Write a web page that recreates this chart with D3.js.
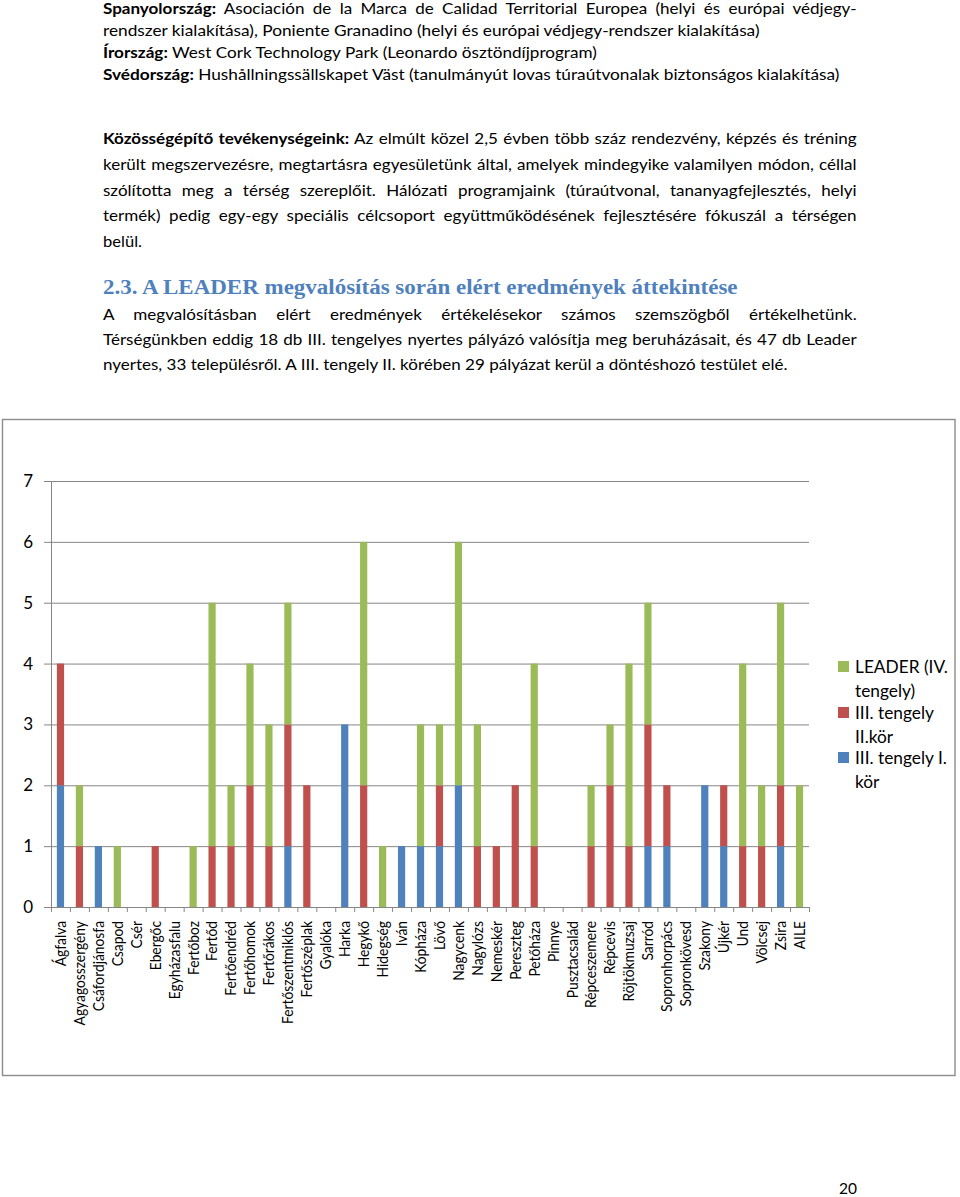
<!DOCTYPE html>
<html>
<head>
<meta charset="utf-8">
<script src="https://cdn.jsdelivr.net/npm/d3@7"></script>
<style>
  body { margin: 0; background: #fff; }
  svg { display: block; }
</style>
</head>
<body>
<div id="page"></div>
<script>
/* Page 20 — LEADER results: stacked bar chart of winning applications per settlement */

// ---- chart data ----
const categories = [
  'Ágfalva', 'Agyagosszergény', 'Csáfordjánosfa', 'Csapod', 'Csér', 'Ebergőc',
  'Egyházasfalu', 'Fertőboz', 'Fertőd', 'Fertőendréd', 'Fertőhomok', 'Fertőrákos',
  'Fertőszentmiklós', 'Fertőszéplak', 'Gyalóka', 'Harka', 'Hegykő', 'Hidegség',
  'Iván', 'Kópháza', 'Lövő', 'Nagycenk', 'Nagylózs', 'Nemeskér', 'Pereszteg',
  'Petőháza', 'Pinnye', 'Pusztacsalád', 'Répceszemere', 'Répcevis', 'Röjtökmuzsaj',
  'Sarród', 'Sopronhorpács', 'Sopronkövesd', 'Szakony', 'Újkér', 'Und', 'Völcsej',
  'Zsira', 'AILE'
];
// III. tengely I. kör (blue)
const korI = [2, 0, 1, 0, 0, 0, 0, 0, 0, 0, 0, 0, 1, 0, 0, 3, 0, 0, 1, 1, 1, 2, 0, 0, 0,
              0, 0, 0, 0, 0, 0, 1, 1, 0, 2, 1, 0, 0, 1, 0];
// III. tengely II. kör (red)
const korII = [2, 1, 0, 0, 0, 1, 0, 0, 1, 1, 2, 1, 2, 2, 0, 0, 2, 0, 0, 0, 1, 0, 1, 1, 2,
               1, 0, 0, 1, 2, 1, 2, 1, 0, 0, 1, 1, 1, 1, 0];
// LEADER (IV. tengely) (green)
const leader = [0, 1, 0, 1, 0, 0, 0, 1, 4, 1, 2, 2, 2, 0, 0, 0, 4, 1, 0, 2, 1, 4, 2, 0, 0,
                3, 0, 0, 1, 1, 3, 2, 0, 0, 0, 0, 3, 1, 3, 2];
const yTicks = [0, 1, 2, 3, 4, 5, 6, 7];
const legendLines = {
  leader: ['LEADER (IV.', 'tengely)'],
  korII: ['III. tengely', 'II.kör'],
  korI: ['III. tengely I.', 'kör'],
};
const legendOrder = ['leader', 'korII', 'korI'];

// ---- page text ----
const para1 = [
  [['Spanyolország:', true], [' Asociación de la Marca de Calidad Territorial Europea (helyi és európai védjegy-', false]],
  [['rendszer kialakítása), Poniente Granadino (helyi és európai védjegy-rendszer kialakítása)', false]],
  [['Írország:', true], [' West Cork Technology Park (Leonardo ösztöndíjprogram)', false]],
  [['Svédország:', true], [' Hushållningssällskapet Väst (tanulmányút lovas túraútvonalak biztonságos kialakítása)', false]],
];
const para2 = [
  [['Közösségépítő tevékenységeink:', true], [' Az elmúlt közel 2,5 évben több száz rendezvény, képzés és tréning', false]],
  [['került megszervezésre, megtartásra egyesületünk által, amelyek mindegyike valamilyen módon, céllal', false]],
  [['szólította meg a térség szereplőit. Hálózati programjaink (túraútvonal, tananyagfejlesztés, helyi', false]],
  [['termék) pedig egy-egy speciális célcsoport együttműködésének fejlesztésére fókuszál a térségen', false]],
  [['belül.', false]],
];
const heading = '2.3. A LEADER megvalósítás során elért eredmények áttekintése';
const para3 = [
  [['A megvalósításban elért eredmények értékelésekor számos szemszögből értékelhetünk.', false]],
  [['Térségünkben eddig 18 db III. tengelyes nyertes pályázó valósítja meg beruházásait, és 47 db Leader', false]],
  [['nyertes, 33 településről. A III. tengely II. körében 29 pályázat kerül a döntéshozó testület elé.', false]],
];
const pageNumber = '20';

const COLORS = { korI: '#4F81BD', korII: '#C0504D', leader: '#9BBB59' };
const FONT = "Lato, 'Noto Sans', sans-serif";
const GRID = '#868686';

const W = 960, H = 1197;
const svg = d3.select('#page').append('svg').attr('width', W).attr('height', H);
svg.append('rect').attr('width', W).attr('height', H).attr('fill', '#fff');

// ---- text block: each line squeezed to the width it has in the scan ----
const LEFT = 103, RIGHT = 857;

function makeLine(parent, parts, size, family, color) {
  const t = parent.append('text')
    .attr('x', 0).attr('y', 0)
    .style('font-family', family)
    .style('font-size', size + 'px')
    .attr('fill', color);
  parts.forEach(([txt, bold]) => {
    t.append('tspan').style('font-weight', bold ? 700 : 400).text(txt);
  });
  return t;
}

// lines: [parts, baseline, rightEdge, justified]
const textLayout = [
  [para1[0], 14, RIGHT, true],
  [para1[1], 36, 760, false],
  [para1[2], 58, 597, false],
  [para1[3], 80, 840, false],
  [para2[0], 144, RIGHT, true],
  [para2[1], 170, RIGHT, true],
  [para2[2], 195.5, RIGHT, true],
  [para2[3], 221, RIGHT, true],
  [para2[4], 246.5, 142, false],
  [para3[0], 320, RIGHT, true],
  [para3[1], 345, RIGHT, true],
  [para3[2], 370, 788, false],
];

const textG = svg.append('g');
const built = textLayout.map(([parts, y, right, just]) => {
  const t = makeLine(textG, parts, 15.8, FONT, '#000');
  const w = t.node().getComputedTextLength();
  return { t, y, right, just, w, parts };
});
const plain = built.filter(d => !d.just).map(d => (d.right - LEFT) / d.w);
const squeeze = d3.mean(plain);
built.forEach(d => {
  let f = (d.right - LEFT) / d.w;
  if (d.just) {
    f = squeeze;
    const spaces = (d.parts.map(p => p[0]).join('').match(/ /g) || []).length;
    const ws = ((d.right - LEFT) / f - d.w) / spaces;
    d.t.attr('word-spacing', ws);
  }
  d.t.attr('transform', `translate(${LEFT},${d.y}) scale(${f},1)`);
});

// heading
const hd = makeLine(svg, [[heading, true]], 20.5, "'Liberation Serif', 'DejaVu Serif', serif", '#4F81BD');
const hw = hd.node().getComputedTextLength();
hd.attr('transform', `translate(${LEFT},294) scale(${(738 - LEFT) / hw},1)`);

// page number
svg.append('text')
  .attr('x', 848).attr('y', 1194)
  .attr('text-anchor', 'middle')
  .style('font-family', FONT).style('font-size', '15.5px')
  .text(pageNumber);

// ---- chart ----
svg.append('rect')
  .attr('x', 2.5).attr('y', 419.5)
  .attr('width', 952.5).attr('height', 656)
  .attr('fill', 'none')
  .attr('stroke', '#8c8c8c')
  .attr('stroke-width', 1.4);

const plot = { left: 51, right: 809, top: 481, bottom: 907 };

const x = d3.scaleBand()
  .domain(categories)
  .range([plot.left, plot.right])
  .paddingInner(0.62)
  .paddingOuter(0.31);
const xEdges = d3.scaleLinear().domain([0, categories.length]).range([plot.left, plot.right]);
const y = d3.scaleLinear().domain([0, 7]).range([plot.bottom, plot.top]);

const chart = svg.append('g');

// gridlines
chart.append('g')
  .attr('transform', `translate(${plot.left},0)`)
  .call(d3.axisLeft(y).tickValues(yTicks.slice(1)).tickSize(-(plot.right - plot.left)).tickFormat(''))
  .call(g => g.select('.domain').remove())
  .call(g => g.selectAll('line').attr('stroke', GRID));

// y axis with ticks + labels
chart.append('g')
  .attr('transform', `translate(${plot.left},0)`)
  .call(d3.axisLeft(y).tickValues(yTicks).tickFormat(d3.format('d'))
    .tickSize(7).tickPadding(11).tickSizeOuter(0))
  .call(g => g.select('.domain').attr('stroke', GRID))
  .call(g => g.selectAll('line').attr('stroke', GRID))
  .call(g => g.selectAll('text')
    .style('font-family', FONT).style('font-size', '17px').attr('fill', '#000'));

// stacked bars
const rows = categories.map((c, i) => ({ cat: c, korI: korI[i], korII: korII[i], leader: leader[i] }));
const stacked = d3.stack().keys(['korI', 'korII', 'leader'])(rows);

chart.selectAll('.series')
  .data(stacked)
  .join('g')
  .attr('fill', d => COLORS[d.key])
  .selectAll('rect')
  .data(d => d.filter(s => s[1] > s[0]))
  .join('rect')
  .attr('x', d => x(d.data.cat))
  .attr('width', x.bandwidth())
  .attr('y', d => y(d[1]))
  .attr('height', d => y(d[0]) - y(d[1]));

// x axis: ticks on category boundaries
chart.append('g')
  .attr('transform', `translate(0,${plot.bottom})`)
  .call(d3.axisBottom(xEdges).tickValues(d3.range(categories.length + 1)).tickSize(5).tickFormat('').tickSizeOuter(0))
  .call(g => g.select('.domain').attr('stroke', GRID))
  .call(g => g.selectAll('line').attr('stroke', GRID));

// category labels, rotated
const labG = chart.append('g');
const labels = labG.selectAll('text')
  .data(categories)
  .join('text')
  .attr('text-anchor', 'end')
  .attr('dy', '0.36em')
  .style('font-family', FONT)
  .style('font-size', '15px')
  .attr('fill', '#000')
  .text(d => d);
const refW = labels.filter(d => d === 'Fertőszentmiklós').node().getComputedTextLength();
const labSqueeze = 103 / refW;
labels.attr('transform', d => `translate(${x(d) + x.bandwidth() / 2},921) rotate(-90) scale(${labSqueeze},1)`);

// legend
const legend = svg.append('g').attr('transform', 'translate(838,0)');
const legendTop = [673, 719, 764];
const legendTexts = [];
legendOrder.forEach((key, i) => {
  const base = legendTop[i];
  legend.append('rect')
    .attr('x', 0).attr('y', base - 12)
    .attr('width', 11).attr('height', 11)
    .attr('fill', COLORS[key]);
  legendLines[key].forEach((ln, j) => {
    legendTexts.push(legend.append('text')
      .attr('x', 0).attr('y', 0)
      .attr('data-y', base + j * 23.5)
      .style('font-family', FONT).style('font-size', '17px')
      .attr('fill', '#000')
      .text(ln));
  });
});
const legW = legendTexts[0].node().getComputedTextLength();
const legSqueeze = 93 / legW;
legendTexts.forEach(t => t.attr('transform', `translate(17,${t.attr('data-y')}) scale(${legSqueeze},1)`));
</script>
</body>
</html>
